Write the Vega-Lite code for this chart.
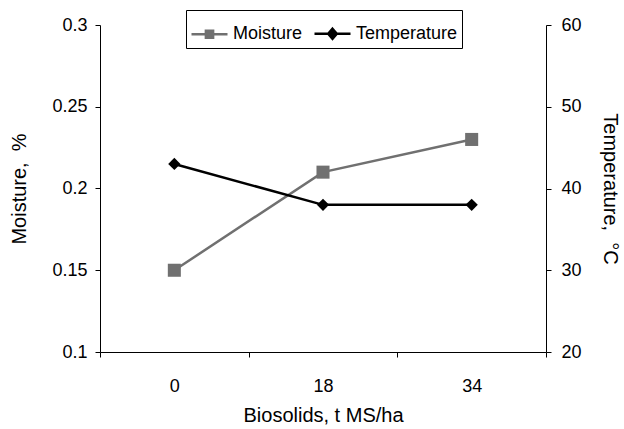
{
  "$schema": "https://vega.github.io/schema/vega-lite/v6.json",
  "width": 446,
  "height": 327,
  "autosize": "none",
  "padding": {"left": 100, "top": 25, "right": 78, "bottom": 77},
  "background": "white",
  "config": {
    "view": {"stroke": null},
    "font": "Liberation Sans",
    "axis": {
      "grid": false,
      "domainColor": "black",
      "domainWidth": 1,
      "tickColor": "black",
      "tickSize": 5,
      "labelColor": "black",
      "labelFontSize": 18,
      "labelFont": "Liberation Sans",
      "titleColor": "black",
      "titleFontSize": 20,
      "titleFont": "Liberation Sans",
      "titleFontWeight": "normal"
    }
  },
  "datasets": {
    "moisture": [
      {"biosolids": "0", "series": "Moisture", "value": 0.15},
      {"biosolids": "18", "series": "Moisture", "value": 0.21},
      {"biosolids": "34", "series": "Moisture", "value": 0.23}
    ],
    "temperature": [
      {"biosolids": "0", "series": "Temperature", "value": 43},
      {"biosolids": "18", "series": "Temperature", "value": 38},
      {"biosolids": "34", "series": "Temperature", "value": 38}
    ]
  },
  "encoding": {
    "x": {
      "field": "biosolids",
      "type": "ordinal",
      "sort": ["0", "18", "34"],
      "bandPosition": 0.5,
      "scale": {"type": "band", "paddingInner": 0, "paddingOuter": 0},
      "axis": {
        "title": "Biosolids, t MS/ha",
        "labelAngle": 0,
        "tickBand": "extent",
        "labelPadding": 20,
        "titlePadding": 10
      }
    },
    "color": {
      "field": "series",
      "type": "nominal",
      "scale": {"domain": ["Moisture", "Temperature"], "range": ["#707070", "#000000"]},
      "legend": {
        "orient": "none",
        "legendX": 86,
        "legendY": -15,
        "direction": "horizontal",
        "title": null,
        "strokeColor": "black",
        "fillColor": "white",
        "padding": 4,
        "labelFontSize": 18,
        "labelFont": "Liberation Sans",
        "labelColor": "black",
        "labelOffset": 4,
        "columnPadding": 6,
        "symbolSize": 1296,
        "symbolStrokeWidth": 2.5,
        "encode": {
          "symbols": {
            "update": {
              "shape": {"signal": "datum.value === 'Moisture' ? 'M-1,0H1M-0.2,-0.2H0.2V0.2H-0.2Z' : 'M-1,0H1M0,-0.28L0.24,0L0,0.28L-0.24,0Z'"},
              "size": {"value": 1296},
              "strokeWidth": {"value": 2.5},
              "fill": {"signal": "datum.value === 'Moisture' ? '#707070' : '#000000'"},
              "stroke": {"signal": "datum.value === 'Moisture' ? '#707070' : '#000000'"},
              "opacity": {"value": 1}
            }
          }
        }
      }
    }
  },
  "layer": [
    {
      "data": {"name": "moisture"},
      "encoding": {
        "y": {
          "field": "value",
          "type": "quantitative",
          "scale": {"domain": [0.1, 0.3], "nice": false, "zero": false},
          "axis": {
            "orient": "left",
            "values": [0.1, 0.15, 0.2, 0.25, 0.3],
            "format": "~g",
            "title": "Moisture,\u00a0 %",
            "labelPadding": 8,
            "titlePadding": 22
          }
        }
      },
      "layer": [
        {"mark": {"type": "line", "strokeWidth": 2.5}},
        {"mark": {"type": "point", "shape": "square", "filled": true, "size": 170, "opacity": 1}}
      ]
    },
    {
      "data": {"name": "temperature"},
      "encoding": {
        "y": {
          "field": "value",
          "type": "quantitative",
          "scale": {"domain": [20, 60], "nice": false, "zero": false},
          "axis": {
            "orient": "right",
            "values": [20, 30, 40, 50, 60],
            "title": "Temperature,\u00a0 °C",
            "labelPadding": 10,
            "titlePadding": 18
          }
        }
      },
      "layer": [
        {"mark": {"type": "line", "strokeWidth": 2.5}},
        {"mark": {"type": "point", "shape": "diamond", "filled": true, "size": 150, "opacity": 1}}
      ]
    }
  ],
  "resolve": {"scale": {"y": "independent"}}
}
